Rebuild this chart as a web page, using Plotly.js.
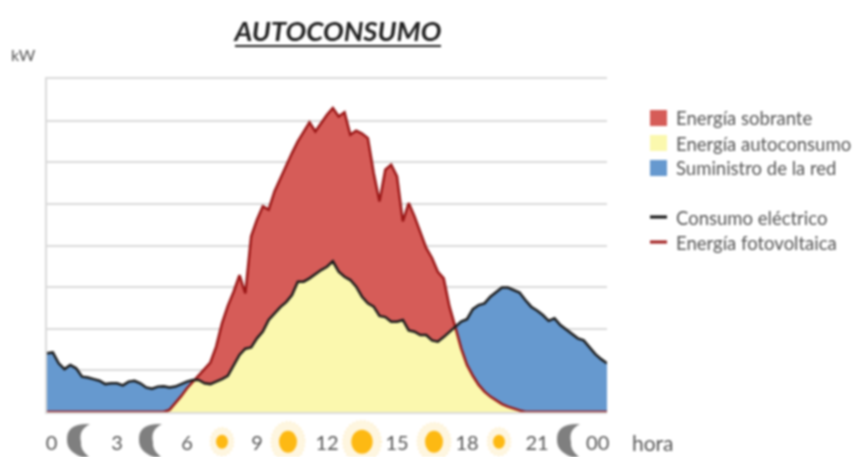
<!DOCTYPE html>
<html>
<head>
<meta charset="utf-8">
<script src="https://cdn.plot.ly/plotly-3.0.1.min.js"></script>
<style>
html,body{margin:0;padding:0;background:#fff;overflow:hidden}
#chart{width:854px;height:457px;filter:blur(0.8px)}
</style>
</head>
<body>
<div id="chart"></div>
<script>
// Hours, every quarter of an hour
var hours = [0,0.25,0.5,0.75,1,1.25,1.5,1.75,2,2.25,2.5,2.75,3,3.25,3.5,3.75,4,4.25,4.5,4.75,5,5.25,5.5,5.75,6,6.25,6.5,6.75,7,7.25,7.5,7.75,8,8.25,8.5,8.75,9,9.25,9.5,9.75,10,10.25,10.5,10.75,11,11.25,11.5,11.75,12,12.25,12.5,12.75,13,13.25,13.5,13.75,14,14.25,14.5,14.75,15,15.25,15.5,15.75,16,16.25,16.5,16.75,17,17.25,17.5,17.75,18,18.25,18.5,18.75,19,19.25,19.5,19.75,20,20.25,20.5,20.75,21,21.25,21.5,21.75,22,22.25,22.5,22.75,23,23.25,23.5,23.75,24];
// Consumo eléctrico
var consumo = [1.41,1.43,1.17,1.03,1.13,1.05,0.85,0.83,0.79,0.75,0.67,0.69,0.69,0.64,0.73,0.75,0.69,0.59,0.56,0.61,0.62,0.59,0.61,0.67,0.73,0.77,0.77,0.69,0.67,0.73,0.79,0.87,1.13,1.37,1.52,1.55,1.77,1.93,2.21,2.37,2.52,2.64,2.81,3.13,3.13,3.21,3.32,3.41,3.49,3.62,3.37,3.25,3.17,3.01,2.77,2.61,2.53,2.31,2.28,2.17,2.17,2.21,1.96,1.93,1.85,1.85,1.72,1.69,1.80,1.93,2.04,2.17,2.23,2.47,2.57,2.61,2.77,2.89,2.99,2.99,2.92,2.87,2.69,2.53,2.44,2.33,2.19,2.25,2.09,1.99,1.89,1.77,1.72,1.56,1.39,1.27,1.17];
// Energía fotovoltaica
var fotovoltaica = [0,0,0,0,0,0,0,0,0,0,0,0,0,0,0,0,0,0,0,0,0,0.05,0.21,0.38,0.57,0.73,0.89,1.05,1.19,1.57,2.13,2.55,2.89,3.29,2.85,4.22,4.62,4.94,4.86,5.30,5.62,5.94,6.22,6.50,6.74,6.96,6.74,6.94,7.14,7.30,7.10,7.20,6.66,6.76,6.69,6.58,5.74,5.06,5.82,5.94,5.66,4.58,5.02,4.70,4.30,3.94,3.70,3.37,3.21,2.53,2.04,1.53,1.13,0.87,0.65,0.49,0.37,0.27,0.19,0.13,0.08,0.04,0,0,0,0,0,0,0,0,0,0,0,0,0,0,0];
var tickHours = [0.2,3,6,9,12,15,18,21,23.6];
var tickLabels = ['0','3','6','9','12','15','18','21','00'];
var gridKw = [1,2,3,4,5,6,7];

var FONT = 'Lato, sans-serif', GREY = '#555555';
var W = 854, H = 457, L = 47, R = 607, T = 79, B = 412;
function px(x){ return (x-L)/(R-L); }
function py(y){ return (B-y)/(B-T); }

// Lower envelope, with the exact crossing points added
var minX = [], minY = [];
hours.forEach(function(h,i){
  minX.push(h); minY.push(Math.min(consumo[i],fotovoltaica[i]));
  if(i < hours.length-1){
    var d0 = consumo[i]-fotovoltaica[i], d1 = consumo[i+1]-fotovoltaica[i+1];
    if(d0*d1 < 0){
      var t = d0/(d0-d1);
      minX.push(h+t*(hours[i+1]-h));
      minY.push(consumo[i]+t*(consumo[i+1]-consumo[i]));
    }
  }
});

var traces = [
  {x:hours,y:consumo,mode:'none',fill:'tozeroy',fillcolor:'#6699CF',name:'Suministro de la red',hoverinfo:'skip'},
  {x:hours,y:fotovoltaica,mode:'none',fill:'tozeroy',fillcolor:'#D65C58',name:'Energía sobrante',hoverinfo:'skip'},
  {x:minX,y:minY,mode:'none',fill:'tozeroy',fillcolor:'#FBF8AE',name:'Energía autoconsumo',hoverinfo:'skip'},
  {x:hours,y:fotovoltaica,mode:'lines',line:{color:'#9A1616',width:2.5},name:'Energía fotovoltaica',cliponaxis:false},
  {x:hours,y:consumo,mode:'lines',line:{color:'#1A1A1A',width:2.5},name:'Consumo eléctrico',cliponaxis:false}
];

var shapes = [], annotations = [];
function text(x,y,t,size,anchor){
  annotations.push({xref:'paper',yref:'paper',x:px(x),y:py(y),text:t,showarrow:false,xanchor:anchor||'left',yanchor:'middle',
    font:{family:FONT,size:size,color:GREY}});
}
function ell(cx,cy,rx,ry,fill,line){
  shapes.push({type:'circle',xref:'paper',yref:'paper',x0:px(cx-rx),x1:px(cx+rx),y0:py(cy+ry),y1:py(cy-ry),
    fillcolor:fill,line:line||{width:0},layer:'above'});
}
function sun(cx,rcx,rcy,rhx,rhy){
  ell(cx,441.7,rhx,rhy,'#FEF6E0',{color:'#FDEBC0',width:2,dash:'1px,3px'});
  ell(cx,441.7,rcx,rcy,'#FDB913');
}
function moon(x){
  function P(a,b){ return px(x+a)+','+py(424+b); }
  shapes.push({type:'path',xref:'paper',yref:'paper',layer:'above',fillcolor:'#7F7F7F',line:{width:0},
    path:'M'+P(23,0)+' Q'+P(-1,-1)+' '+P(0,16)+' Q'+P(0,28)+' '+P(15,33)+' L'+P(22,33)+' Q'+P(13,26)+' '+P(14,18)+' Q'+P(11,6)+' '+P(23,0)+' Z'});
}
moon(67); moon(139); moon(557);
sun(222,6,7,11.5,14); sun(288,9,11,16.7,20); sun(362,10.7,12,19,21); sun(434,9,11,16.7,19); sun(499,6,7,11.5,14);

// Title underline
shapes.push({type:'line',xref:'paper',yref:'paper',x0:px(235),x1:px(441),y0:py(46),y1:py(46),line:{color:'#222222',width:2}});

// Legend
[[118,'#D65C58'],[143,'#FBF8AE'],[168,'#6699CF']].forEach(function(d){
  shapes.push({type:'rect',xref:'paper',yref:'paper',x0:px(650),x1:px(667),y0:py(d[0]+8),y1:py(d[0]-8),fillcolor:d[1],line:{width:0}});
});
[[217,'#111111'],[242,'#A01C1C']].forEach(function(d){
  shapes.push({type:'line',xref:'paper',yref:'paper',x0:px(650),x1:px(667),y0:py(d[0]),y1:py(d[0]),line:{color:d[1],width:3}});
});
var LEG = 18.5;
text(674,118,'Energía sobrante',LEG);
text(674,144,'Energía autoconsumo',LEG);
text(674,168,'Suministro de la red',LEG);
text(674,218,'Consumo eléctrico',LEG);
text(674,243,'Energía fotovoltaica',LEG);
text(9,54,'kW',16);
text(630,442,'hora',21);

var layout = {
  width:W,height:H,margin:{l:L,r:W-R,t:T,b:H-B},
  paper_bgcolor:'#fff',plot_bgcolor:'#fff',showlegend:false,
  title:{text:'AUTOCONSUMO',x:338/W,xanchor:'center',y:1-31/H,yanchor:'middle',
    font:{family:'Lato, sans-serif',size:27.5,color:'#222222',style:'italic',weight:700}},
  xaxis:{range:[0,24],tickmode:'array',tickvals:tickHours,ticktext:tickLabels,showgrid:false,zeroline:false,
    showline:true,mirror:true,linecolor:'#DADADA',linewidth:2,layer:'below traces',
    ticks:'',ticklabelstandoff:12,tickfont:{family:FONT,size:20,color:GREY},fixedrange:true},
  yaxis:{range:[0,8],tickmode:'array',tickvals:gridKw,showticklabels:false,showgrid:true,gridcolor:'#DADADA',gridwidth:2,
    zeroline:false,showline:true,linecolor:'#DADADA',linewidth:2,layer:'below traces',ticks:'',fixedrange:true},
  shapes:shapes,annotations:annotations
};
Plotly.newPlot('chart',traces,layout,{displayModeBar:false,staticPlot:true});
</script>
</body>
</html>
